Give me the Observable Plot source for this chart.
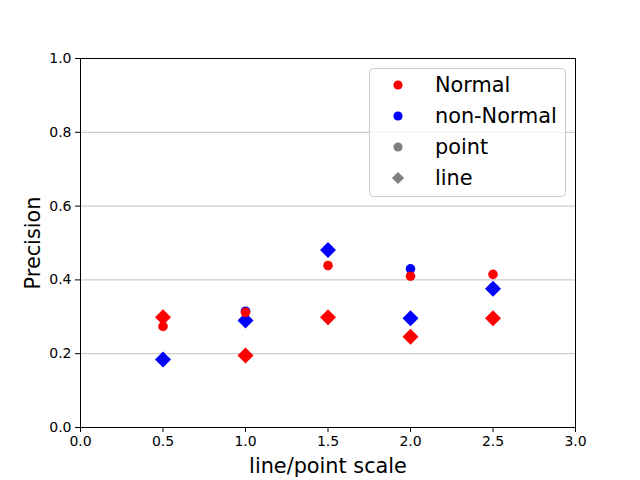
<!DOCTYPE html>
<html>
<head>
<meta charset="utf-8">
<script src="https://cdn.jsdelivr.net/npm/d3@7"></script>
<script src="https://cdn.jsdelivr.net/npm/@observablehq/plot@0.6"></script>
<style>
  html, body { margin: 0; padding: 0; background: white; }
</style>
</head>
<body>
<div id="chart"></div>
<script>
const scales = [0.5, 1.0, 1.5, 2.0, 2.5];
const normalPoint = [0.274, 0.312, 0.439, 0.410, 0.415];
const normalLine = [0.299, 0.195, 0.299, 0.246, 0.296];
const nonNormalPoint = [0.300, 0.315, 0.480, 0.430, 0.376];
const nonNormalLine = [0.184, 0.290, 0.481, 0.296, 0.376];
const xTicks = [0, 0.5, 1.0, 1.5, 2.0, 2.5, 3.0];
const yTicks = [0, 0.2, 0.4, 0.6, 0.8, 1.0];
const gridY = [0.2, 0.4, 0.6, 0.8];
const legendItems = [
  {label: "Normal", color: "red", symbol: "circle"},
  {label: "non-Normal", color: "blue", symbol: "circle"},
  {label: "point", color: "gray", symbol: "circle"},
  {label: "line", color: "gray", symbol: "diamond"}
];

const rows = (ys) => scales.map((x, i) => ({x, y: ys[i]}));

const font = "DejaVu Sans, sans-serif";
const plot = Plot.plot({
  width: 640,
  height: 480,
  marginLeft: 80,
  marginRight: 65,
  marginTop: 58,
  marginBottom: 53,
  style: {fontFamily: font, fontSize: "14px", background: "white", color: "black"},
  x: {domain: [0, 3]},
  y: {domain: [0, 1]},
  marks: [
    Plot.ruleY(gridY, {stroke: "#b0b0b0", strokeWidth: 0.8}),
    Plot.dot(rows(nonNormalPoint), {x: "x", y: "y", r: 4.8, fill: "blue", symbol: "circle"}),
    Plot.dot(rows(nonNormalLine), {x: "x", y: "y", r: 7.2, fill: "blue", symbol: "diamond2"}),
    Plot.dot(rows(normalPoint), {x: "x", y: "y", r: 4.8, fill: "red", symbol: "circle"}),
    Plot.dot(rows(normalLine), {x: "x", y: "y", r: 7.2, fill: "red", symbol: "diamond2"}),
    Plot.frame({stroke: "black", strokeWidth: 1}),
    Plot.axisX({ticks: xTicks, tickFormat: d3.format(".1f"), tickSize: 5, tickPadding: 4, label: null, fontSize: 14}),
    Plot.axisY({ticks: yTicks, tickFormat: d3.format(".1f"), tickSize: 5, tickPadding: 4, label: null, fontSize: 14}),
    Plot.text(["line/point scale"], {frameAnchor: "bottom", dy: 39, fontSize: 20.8, fill: "black", lineAnchor: "middle", textAnchor: "middle"}),
    Plot.text(["Precision"], {frameAnchor: "left", dx: -47, rotate: -90, fontSize: 20.8, fill: "black", textAnchor: "middle", lineAnchor: "middle"})
  ]
});

document.getElementById("chart").appendChild(plot);

// Legend
const svg = d3.select(plot);
const lg = svg.append("g").attr("font-family", font).attr("text-anchor", "start");
lg.append("rect")
  .attr("x", 369.5).attr("y", 68.5).attr("width", 196).attr("height", 128)
  .attr("rx", 4).attr("fill", "white").attr("fill-opacity", 0.8)
  .attr("stroke", "#cccccc").attr("stroke-width", 1);
const rowY = [85, 116, 147, 178];
legendItems.forEach((d, i) => {
  const sym = d.symbol === "circle" ? d3.symbolCircle : d3.symbolDiamond2;
  const size = d.symbol === "circle" ? Math.PI * 4.6 * 4.6 : Math.PI * 5.5 * 5.5;
  lg.append("path")
    .attr("d", d3.symbol(sym, size)())
    .attr("transform", `translate(398,${rowY[i]})`)
    .attr("fill", d.color);
  lg.append("text")
    .attr("x", 435).attr("y", rowY[i]).attr("dy", "0.35em")
    .attr("text-anchor", "start")
    .attr("font-size", 20.8).attr("fill", "black")
    .text(d.label);
});
</script>
</body>
</html>
